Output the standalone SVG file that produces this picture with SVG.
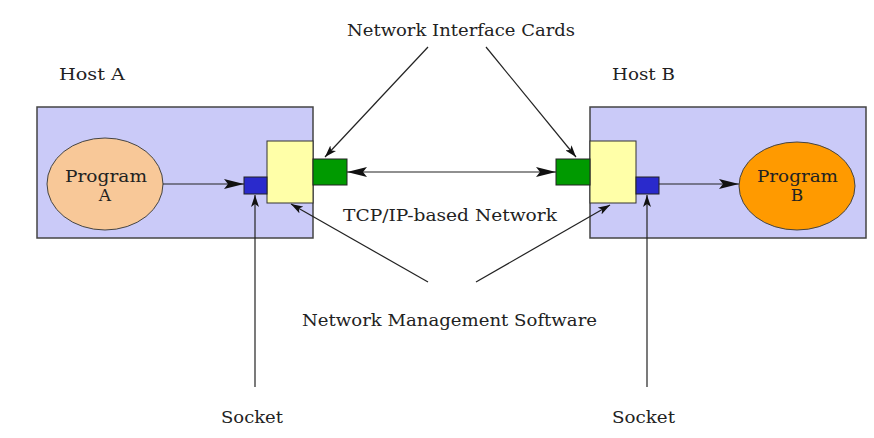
<svg xmlns="http://www.w3.org/2000/svg" width="874" height="438" viewBox="0 0 874 438">
<style>
text{font-family:"DejaVu Serif","Liberation Serif",serif;font-size:17px;fill:#222}
.host{fill:#CACAF8;stroke:#444;stroke-width:1.5}
.nms{fill:#FFFFA8;stroke:#333;stroke-width:1}
.nic{fill:#009A00;stroke:#222;stroke-width:1}
.sock{fill:#2A2ACC;stroke:#222;stroke-width:1}
.ln{stroke:#222;stroke-width:1.2;fill:none}
</style>
<defs>
<marker id="ah" viewBox="0 0 12 8" refX="12" refY="4" markerWidth="12" markerHeight="8" markerUnits="userSpaceOnUse" orient="auto-start-reverse"><path d="M0,0 L12,4 L0,8 L3,4 Z" fill="#111"/></marker>
<marker id="big" viewBox="0 0 20 10" refX="20" refY="5" markerWidth="20" markerHeight="10" markerUnits="userSpaceOnUse" orient="auto-start-reverse"><path d="M0,0 L20,5 L0,10 L4,5 Z" fill="#111"/></marker>
</defs>
<rect width="874" height="438" fill="#fff"/>
<g id="hostA">
<rect class="host" x="37" y="107" width="276" height="131"/>
<text x="59" y="80" textLength="66" lengthAdjust="spacingAndGlyphs">Host A</text>
</g>
<g id="hostB">
<rect class="host" x="590" y="107" width="276" height="131"/>
<text x="612" y="80" textLength="63" lengthAdjust="spacingAndGlyphs">Host B</text>
</g>
<g id="programA">
<ellipse cx="105" cy="184" rx="58" ry="46" fill="#F8C898" stroke="#444" stroke-width="1"/>
<text x="65" y="182" textLength="82" lengthAdjust="spacingAndGlyphs">Program</text>
<text x="105" y="201" text-anchor="middle">A</text>
</g>
<g id="programB">
<ellipse cx="797" cy="186" rx="58" ry="44" fill="#FF9A00" stroke="#444" stroke-width="1"/>
<text x="757" y="182" textLength="81" lengthAdjust="spacingAndGlyphs">Program</text>
<text x="797" y="201" text-anchor="middle">B</text>
</g>
<g id="nmsA"><rect class="nms" x="267" y="141" width="46" height="62"/></g>
<g id="nmsB"><rect class="nms" x="590" y="141" width="46" height="62"/></g>
<g id="nicA"><rect class="nic" x="313" y="159" width="34" height="26"/></g>
<g id="nicB"><rect class="nic" x="556" y="159" width="34" height="26"/></g>
<g id="socketA"><rect class="sock" x="244" y="177" width="23" height="17"/></g>
<g id="socketB"><rect class="sock" x="636" y="177" width="23" height="17"/></g>
<g id="labels">
<text x="347" y="36" textLength="228" lengthAdjust="spacingAndGlyphs">Network Interface Cards</text>
<text x="343" y="221" textLength="214" lengthAdjust="spacingAndGlyphs">TCP/IP-based Network</text>
<text x="302" y="326" textLength="295" lengthAdjust="spacingAndGlyphs">Network Management Software</text>
<text x="221" y="423" textLength="62" lengthAdjust="spacingAndGlyphs">Socket</text>
<text x="612" y="423" textLength="63" lengthAdjust="spacingAndGlyphs">Socket</text>
</g>
<g id="connectors">
<line class="ln" x1="163" y1="184" x2="244" y2="184" marker-end="url(#big)"/>
<line class="ln" x1="659" y1="184" x2="739" y2="184" marker-end="url(#big)"/>
<line class="ln" x1="347" y1="172" x2="556" y2="172" marker-start="url(#big)" marker-end="url(#big)"/>
<line class="ln" x1="428" y1="47" x2="325" y2="157" marker-end="url(#ah)"/>
<line class="ln" x1="486" y1="47" x2="576" y2="157" marker-end="url(#ah)"/>
<line class="ln" x1="428" y1="282" x2="291" y2="204" marker-end="url(#ah)"/>
<line class="ln" x1="476" y1="282" x2="610" y2="205" marker-end="url(#ah)"/>
<line class="ln" x1="255" y1="387" x2="255" y2="195" marker-end="url(#ah)"/>
<line class="ln" x1="647" y1="387" x2="647" y2="195" marker-end="url(#ah)"/>
</g>
</svg>
